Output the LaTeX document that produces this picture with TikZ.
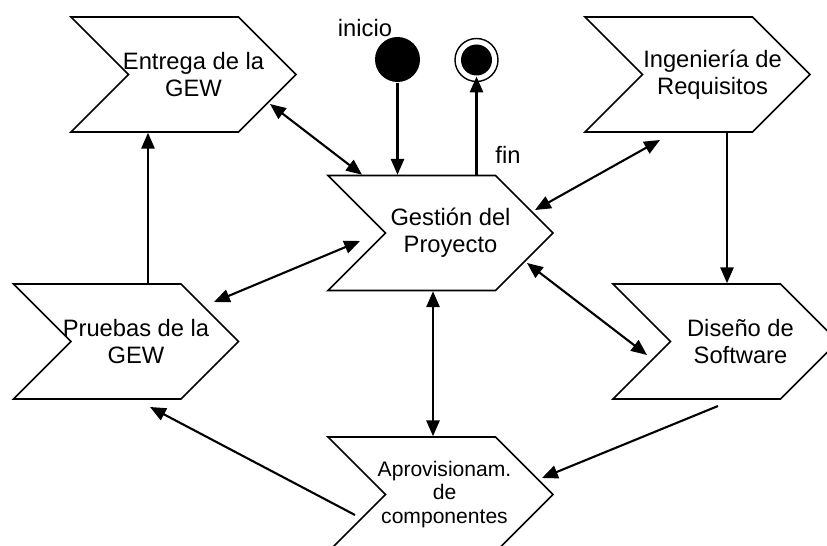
\documentclass[tikz,border=0pt]{standalone}
\usepackage{fontspec}
\setmainfont{Liberation Sans}
\usetikzlibrary{shapes.symbols,arrows.meta,calc}
\begin{document}
\begin{tikzpicture}[x=0.02cm,y=-0.02cm,line width=1.2pt,
	paso/.style={signal, signal to=east, signal from=west, signal pointer angle=90, draw, line width=0.9pt, minimum width=4.5cm, minimum height=2.3cm},
	rotulo/.style={xshift=0.2cm, align=center, font=\fontsize{13.5}{15.5}\selectfont},
	flecha/.style={-{Triangle[length=9pt,width=7.5pt]}},
	doble/.style={{Triangle[length=9pt,width=7.5pt]}-{Triangle[length=9pt,width=7.5pt]}}]
	\useasboundingbox (0,0) rectangle (827,546);
	% etapas
	\node[paso, label={[rotulo]center:Entrega de la\\GEW}] (ent) at (183.5,74.5) {};
	\node[paso, label={[rotulo]center:Gestión del\\Proyecto}] (gest) at (440.5,233) {};
	\node[paso, label={[rotulo, xshift=0.1cm]center:Ingeniería de\\Requisitos}] (ing) at (697.5,74.5) {};
	\node[paso, label={[rotulo]center:Pruebas de la\\GEW}] (prue) at (126,341.5) {};
	\node[paso, label={[rotulo, xshift=0.1cm]center:Diseño de\\Software}] (dis) at (725.5,341.5) {};
	\node[paso, label={[rotulo, xshift=-0.12cm, font=\fontsize{12}{13.3}\selectfont]center:Aprovisionam.\\de\\componentes}] (apr) at (440.5,494.5) {};
	% inicio y fin
	\node[circle, fill, minimum size=0.9cm, inner sep=0pt] (ini) at (397.5,59.5) {};
	\node[circle, draw, line width=0.8pt, minimum size=0.86cm, inner sep=0pt] (fin) at (476.5,60) {};
	\node[circle, fill, minimum size=0.62cm, inner sep=0pt] (finin) at (fin) {};
	\node[font=\fontsize{13.5}{15.5}\selectfont] (lini) at (365,28) {inicio};
	\node[font=\fontsize{13.5}{15.5}\selectfont] (lfin) at (508,155) {fin};
	% conexiones
	\draw[flecha] (ini.south) -- (ini.south |- gest.north);
	\draw[flecha] (finin.south |- gest.north) -- (finin.south);
	\draw[doble] ($(ent)+(86.5,29.5)$) -- ($(gest.north)+(-78.5,0)$);
	\draw[doble] ($(ing)+(-37.5,65.5)$) -- ($(gest)+(94.5,-23)$);
	\draw[flecha] ($(ing.south)+(29.5,0)$) -- ($(dis.north)+(1.5,0)$);
	\draw[doble] ($(gest)+(86.5,30)$) -- ($(dis)+(-78.5,13.5)$);
	\draw[doble] ($(gest)+(-80.5,8)$) -- ($(prue)+(88,-39.5)$);
	\draw[flecha] ($(prue.north)+(22,0)$) -- ($(ent.south)+(-35.5,0)$);
	\draw[doble] ($(gest.south)+(-7.5,0)$) -- ($(apr.north)+(-7.5,0)$);
	\draw[flecha] ($(dis)+(-7.5,64.5)$) -- ($(apr)+(101.5,-16.5)$);
	\draw[flecha] ($(apr)+(-85.5,20.5)$) -- ($(prue)+(24,65.5)$);
\end{tikzpicture}
\end{document}
